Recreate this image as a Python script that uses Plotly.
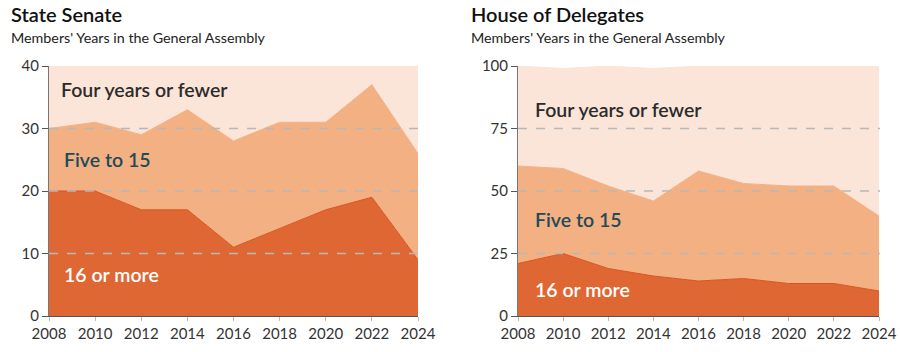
import plotly.graph_objects as go

years = [2008, 2010, 2012, 2014, 2016, 2018, 2020, 2022, 2024]

# State Senate (40 members)
senate_16_plus = [20, 20, 17, 17, 11, 14, 17, 19, 9]
senate_5_to_15 = [10, 11, 12, 16, 17, 17, 14, 18, 17]
senate_4_fewer = [10, 9, 11, 7, 12, 9, 9, 3, 14]

# House of Delegates (100 members)
house_16_plus = [21, 25, 19, 16, 14, 15, 13, 13, 10]
house_5_to_15 = [39, 34, 33, 30, 44, 38, 39, 39, 30]
house_4_fewer = [40, 40, 48, 53, 42, 47, 48, 48, 60]

senate_ticks = [0, 10, 20, 30, 40]
house_ticks = [0, 25, 50, 75, 100]
senate_grid = [10, 20, 30]
house_grid = [25, 50, 75]

C_DARK = "#DF6734"
C_MED = "#F3B082"
C_LIGHT = "#FBE5D8"
FONT = "Lato, Open Sans, sans-serif"

fig = go.Figure()

def add_stack(values, color, line_color, xa, ya, group):
    fig.add_trace(go.Scatter(
        x=years, y=values, stackgroup=group, mode="lines",
        line=dict(color=line_color, width=1), fillcolor=color,
        xaxis=xa, yaxis=ya, hoverinfo="skip", showlegend=False))

add_stack(senate_16_plus, C_DARK, "#D9531E", "x", "y", "s")
add_stack(senate_5_to_15, C_MED, C_MED, "x", "y", "s")
add_stack(senate_4_fewer, C_LIGHT, C_LIGHT, "x", "y", "s")
add_stack(house_16_plus, C_DARK, "#D9531E", "x2", "y2", "h")
add_stack(house_5_to_15, C_MED, C_MED, "x2", "y2", "h")
add_stack(house_4_fewer, C_LIGHT, C_LIGHT, "x2", "y2", "h")

ydom = [1 - 316 / 352, 1 - 66 / 352]
xaxis_common = dict(
    range=[2008, 2024], tickvals=years, ticks="outside", ticklen=4,
    tickcolor="#bbbbbb", showline=True, linecolor="#555555", linewidth=1,
    showgrid=False, zeroline=False, fixedrange=True, automargin=False,
    tickfont=dict(family=FONT, size=15, color="#333333"),
)
yaxis_common = dict(
    ticks="outside", ticklen=6, tickcolor="#555555", showline=True,
    linecolor="#777777", linewidth=1, showgrid=False, zeroline=False, automargin=False,
    tickfont=dict(family=FONT, size=15, color="#333333"), layer="above traces",
)

fig.update_layout(
    width=900, height=352, margin=dict(l=0, r=0, t=0, b=0, autoexpand=False),
    paper_bgcolor="white", plot_bgcolor="white",
    xaxis=dict(domain=[49 / 900, 418 / 900], anchor="y", **xaxis_common),
    xaxis2=dict(domain=[518 / 900, 879 / 900], anchor="y2", **xaxis_common),
    yaxis=dict(domain=ydom, range=[0, 40], tickvals=senate_ticks, anchor="x", **yaxis_common),
    yaxis2=dict(domain=ydom, range=[0, 100], tickvals=house_ticks, anchor="x2", **yaxis_common),
)

shapes = []
for g in senate_grid:
    shapes.append(dict(type="line", xref="x domain", yref="y", x0=0, x1=1.003, y0=g, y1=g,
                       line=dict(color="#b8b8b8", width=1.5, dash="dash"), layer="above"))
for g in house_grid:
    shapes.append(dict(type="line", xref="x2 domain", yref="y2", x0=0, x1=1.003, y0=g, y1=g,
                       line=dict(color="#b8b8b8", width=1.5, dash="dash"), layer="above"))
fig.update_layout(shapes=shapes)

ann = []
def title(x, text_t, text_s):
    ann.append(dict(text=text_t, x=x, y=1 - 14 / 352, xref="paper", yref="paper",
                    xanchor="left", yanchor="middle", showarrow=False,
                    font=dict(family=FONT, size=20, color="#111111", weight=600)))
    ann.append(dict(text=text_s, x=x, y=1 - 38 / 352, xref="paper", yref="paper",
                    xanchor="left", yanchor="middle", showarrow=False,
                    font=dict(family=FONT, size=14.3, color="#222222")))

title(9 / 900, "State Senate", "Members' Years in the General Assembly")
title(469 / 900, "House of Delegates", "Members' Years in the General Assembly")

def label(xa, ya, x, y, text, color):
    ann.append(dict(text=text, x=x, y=y, xref=xa, yref=ya, xanchor="left", yanchor="middle",
                    showarrow=False, font=dict(family=FONT, size=19.5, color=color, weight=600)))

label("x", "y", 2008.45, 36.2, "Four years or fewer", "#2b2b2b")
label("x", "y", 2008.55, 25.0, "Five to 15", "#1e4a5a")
label("x", "y", 2008.55, 6.6, "16 or more", "#ffffff")
label("x2", "y2", 2008.65, 82.5, "Four years or fewer", "#2b2b2b")
label("x2", "y2", 2008.65, 38.8, "Five to 15", "#1e4a5a")
label("x2", "y2", 2008.65, 10.5, "16 or more", "#ffffff")

fig.update_layout(annotations=ann)

fig.write_html("out.html")
